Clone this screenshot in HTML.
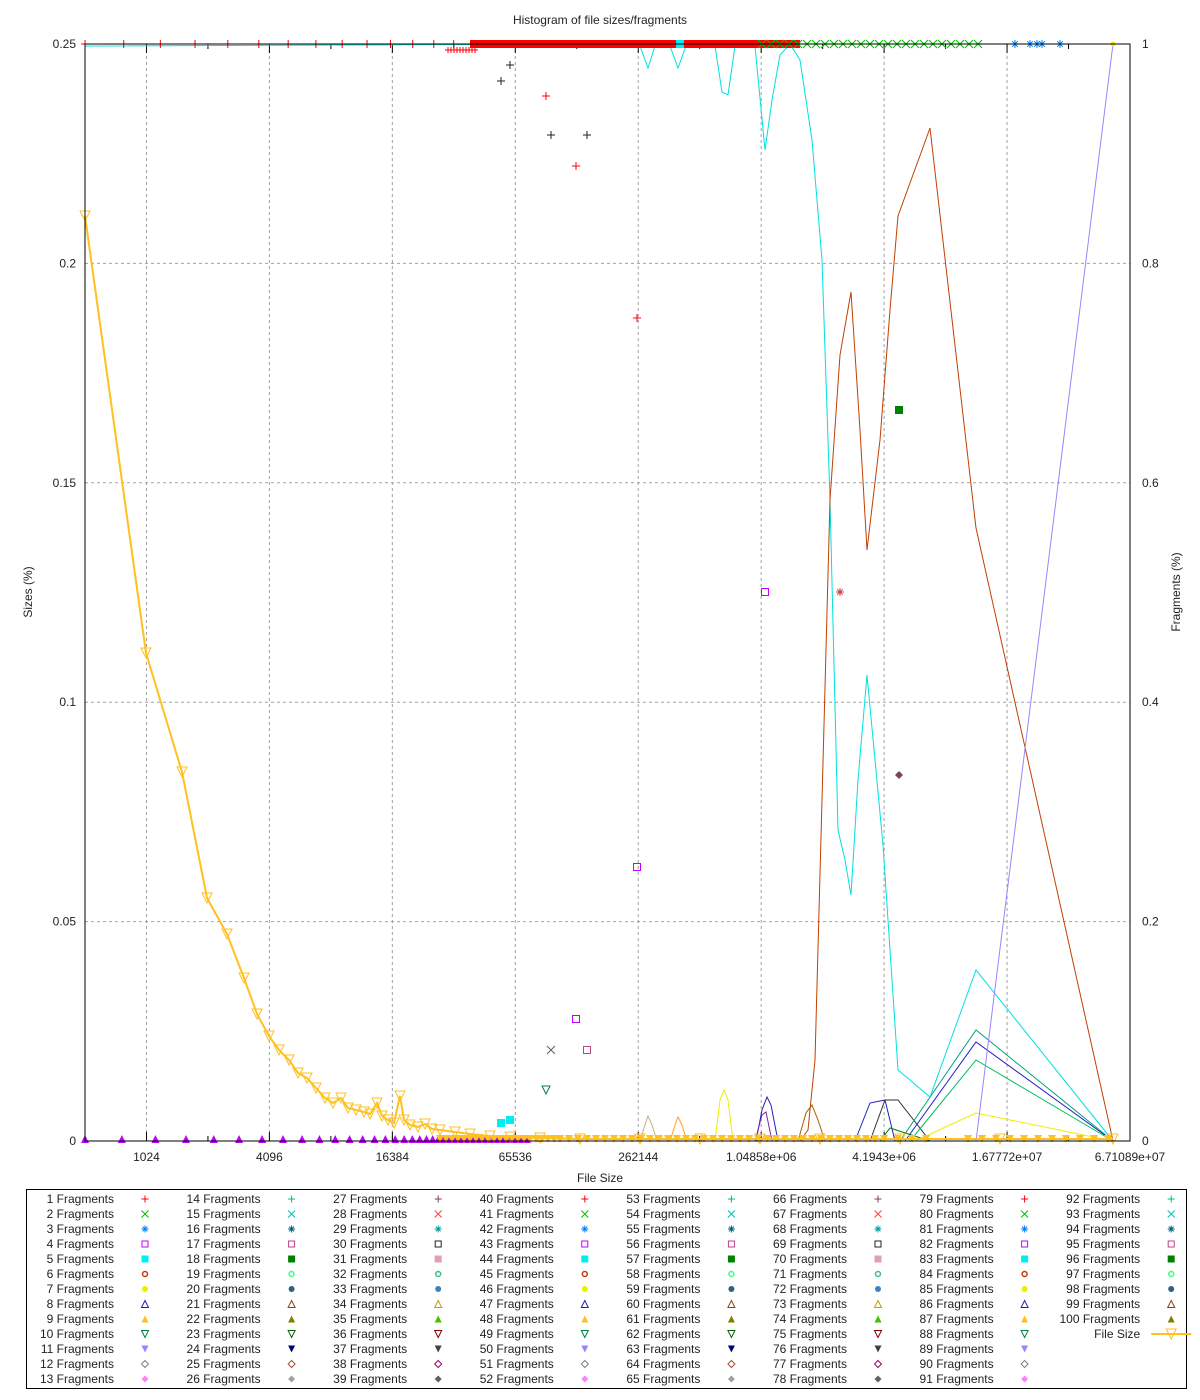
<!DOCTYPE html>
<html><head><meta charset="utf-8"><style>
body{margin:0;background:#fff;}
svg{display:block;font-family:"Liberation Sans",sans-serif;font-size:12px;}
</style></head><body>
<svg id="s" width="1200" height="1400" xmlns="http://www.w3.org/2000/svg"></svg>
<script>
const S=document.getElementById('s');let h='';
const L=85,R=1130,T=44,B=1141;
const X=p=>L+(p-9)*(R-L)/17; // p = log2
const YL=v=>B-v/0.25*(B-T);
h+='<rect width="1200" height="1400" fill="#fff"/>';
// grid
for(let i=1;i<5;i++){const y=B-i*(B-T)/5;h+=`<line x1="${L}" y1="${y}" x2="${R}" y2="${y}" stroke="#a0a0a0" stroke-dasharray="3,3"/>`;}
for(let p=10;p<26;p+=2){h+=`<line x1="${X(p)}" y1="${T}" x2="${X(p)}" y2="${B}" stroke="#a0a0a0" stroke-dasharray="3,3"/>`;}
// ticks
for(let p=10;p<=26;p++){const x=X(p),l=p%2==0?9:5;h+=`<line x1="${x}" y1="${B}" x2="${x}" y2="${B-l}" stroke="#000"/><line x1="${x}" y1="${T}" x2="${x}" y2="${T+l}" stroke="#000"/>`;}
const xl={10:'1024',12:'4096',14:'16384',16:'65536',18:'262144',20:'1.04858e+06',22:'4.1943e+06',24:'1.67772e+07',26:'6.71089e+07'};
for(const p in xl)h+=`<text x="${X(+p)}" y="${B+20}" text-anchor="middle" fill="#222">${xl[p]}</text>`;
const yl=['0','0.05','0.1','0.15','0.2','0.25'],yr=['0','0.2','0.4','0.6','0.8','1'];
for(let i=0;i<6;i++){const y=B-i*(B-T)/5;h+=`<text x="${L-9}" y="${y+4}" text-anchor="end" fill="#222">${yl[i]}</text><text x="${R+12}" y="${y+4}" fill="#222">${yr[i]}</text>`;}
h+=`<text x="600" y="24" text-anchor="middle" fill="#222">Histogram of file sizes/fragments</text>`;
h+=`<text x="600" y="1182" text-anchor="middle" fill="#222">File Size</text>`;
h+=`<text transform="translate(32,592) rotate(-90)" text-anchor="middle" fill="#222">Sizes (%)</text>`;
h+=`<text transform="translate(1180,592) rotate(-90)" text-anchor="middle" fill="#222">Fragments (%)</text>`;
// marker
function mk(t,x,y,c,s=4){switch(t){
case 1:return `<path d="M${x-s} ${y}h${2*s}M${x} ${y-s}v${2*s}" stroke="${c}"/>`;
case 2:return `<path d="M${x-s} ${y-s}l${2*s} ${2*s}M${x-s} ${y+s}l${2*s} ${-2*s}" stroke="${c}"/>`;
case 3:return `<path d="M${x-s} ${y}h${2*s}M${x} ${y-s}v${2*s}M${x-s*.7} ${y-s*.7}l${1.4*s} ${1.4*s}M${x-s*.7} ${y+s*.7}l${1.4*s} ${-1.4*s}" stroke="${c}"/>`;
case 4:return `<rect x="${x-s+.5}" y="${y-s+.5}" width="${2*s-1}" height="${2*s-1}" fill="none" stroke="${c}"/>`;
case 5:return `<rect x="${x-s}" y="${y-s}" width="${2*s}" height="${2*s}" fill="${c}"/>`;
case 6:return `<circle cx="${x}" cy="${y}" r="${s-1}" fill="none" stroke="${c}" stroke-width="1.5"/>`;
case 7:return `<circle cx="${x}" cy="${y}" r="${s-.5}" fill="${c}"/>`;
case 8:return `<path d="M${x} ${y-s}L${x+s} ${y+s}H${x-s}Z" fill="none" stroke="${c}"/>`;
case 9:return `<path d="M${x} ${y-s}L${x+s} ${y+s}H${x-s}Z" fill="${c}"/>`;
case 10:return `<path d="M${x} ${y+s}L${x+s} ${y-s}H${x-s}Z" fill="none" stroke="${c}"/>`;
case 11:return `<path d="M${x} ${y+s}L${x+s} ${y-s}H${x-s}Z" fill="${c}"/>`;
case 12:return `<path d="M${x} ${y-s}L${x+s} ${y}L${x} ${y+s}L${x-s} ${y}Z" fill="none" stroke="${c}"/>`;
default:return `<path d="M${x} ${y-s}L${x+s} ${y}L${x} ${y+s}L${x-s} ${y}Z" fill="${c}"/>`;}}
const pal=['#ff0000','#00c000','#0080ff','#c000ff','#00eeee','#c04000','#eeee00','#2020c0','#ffc020','#008040','#a080ff','#808080','#ff80ff','#00c060','#00c0c0','#006080','#c04080','#008000','#40ff80','#306080','#8b4513','#808000','#006400','#000080','#a0522d','#a0a0a0','#804060','#ff4040','#00a0a0','#202020','#e0a0b0','#40c080','#4080c0','#c0a000','#40c000','#800000','#404040','#a00060','#606060'];
const col=n=>pal[(n-1)%pal.length];
const pt=n=>((n-1)%13)+1;
// lines
function pl(pts,c,w=1){h+=`<polyline points="${pts.map(p=>p.join(',')).join(' ')}" fill="none" stroke="${c}" stroke-width="${w}"/>`;}
// bottom small bumps
pl([[640,1141],[645,1125],[648,1116],[652,1125],[657,1141]],'#c0b080');
pl([[670,1141],[675,1125],[678,1117],[682,1125],[687,1141]],'#ffa020');
pl([[715,1141],[720,1100],[724,1090],[728,1100],[733,1141]],'#eeee00');
pl([[756,1141],[762,1110],[767,1097],[771,1105],[778,1141]],'#2020c0');
pl([[755,1141],[762,1115],[766,1112],[772,1141]],'#8020a0');
pl([[798,1141],[806,1113],[812,1105],[818,1120],[825,1141]],'#a06000');
pl([[855,1141],[870,1103],[885,1100],[895,1141]],'#2020c0');
pl([[870,1141],[885,1100],[898,1100],[930,1141]],'#303030');
pl([[880,1141],[890,1128],[930,1141]],'#008000');
pl([[900,1141],[976,1030],[1113,1141]],'#00a080');
pl([[905,1141],[976,1042],[1113,1141]],'#2020c0');
pl([[910,1141],[976,1060],[1113,1141]],'#00c060');
pl([[915,1141],[976,1113],[1113,1141]],'#eeee00');
// cyan
pl([[85,46],[600,44],[640,46],[648,68],[655,46],[670,46],[678,68],[686,46],[715,46],[722,92],[728,95],[735,46],[755,46],[765,150],[772,100],[780,55],[790,44],[800,60],[812,140],[822,260],[830,500],[838,830],[845,860],[851,895],[858,780],[867,675],[875,760],[883,845],[898,1070],[930,1097],[976,970],[1113,1141]],'#00e0e0');
// brown
pl([[500,1141],[800,1141],[808,1130],[815,1060],[822,800],[830,500],[840,355],[851,292],[860,430],[867,550],[880,440],[890,310],[898,216],[930,128],[976,528],[1113,1141]],'#c04000');
// purple
pl([[976,1141],[1113,44]],'#a080ff');
// top row of fragment-1 marks
for(let p=9;p<19.2;p+=0.09*(1+(19-p)*0.6)){h+=mk(1,X(p),44,'#ff0000',4);}
h+=`<rect x="470" y="40" width="330" height="8" fill="#ff0000"/>`;
for(let i=0;i<25;i++){h+=mk(2,762+i*9,44,'#00c000',4);}
[1015,1030,1037,1042,1060].forEach(x=>h+=mk(3,x,44,'#0080ff',4));
h+=mk(5,680,44,'#00eeee',4);h+=mk(7,1113,44,'#eeee00',3);
for(let i=0;i<10;i++)h+=mk(1,448+i*3,50,'#ff0000',3);
// scattered points
[[501,81],[510,65],[551,135],[587,135]].forEach(p=>h+=mk(1,p[0],p[1],'#202020'));
[[546,96],[576,166],[637,318]].forEach(p=>h+=mk(1,p[0],p[1],'#ff0000'));
[[637,867],[576,1019],[765,592]].forEach(p=>h+=mk(4,p[0],p[1],'#c000ff'));
h+=mk(4,587,1050,'#c04080');h+=mk(2,551,1050,'#606060');h+=mk(10,546,1090,'#008040');
h+=mk(5,501,1123,'#00eeee');h+=mk(5,510,1120,'#00eeee');
h+=mk(5,899,410,'#008000');h+=mk(13,899,775,'#804060');h+=mk(3,840,592,'#c04040');
// purple triangles along bottom
for(let p=9;p<16.2;p+=Math.max(0.05,0.6-(p-9)*0.09)){h+=mk(9,X(p),1139,'#c000ff',4);}
// orange File Size
const fs=[[85,216],[146,653],[182,772],[207,898],[227,934],[244,978],[257,1014],[269,1036],[279,1050],[289,1060],[298,1073],[307,1078],[316,1088],[325,1098],[333,1103],[341,1098],[348,1108],[356,1110],[364,1112],[370,1114],[377,1103],[382,1116],[388,1120],[394,1123],[400,1096],[404,1120],[410,1125],[418,1127],[425,1124],[432,1129],[440,1130],[455,1132],[470,1134],[490,1136],[510,1137],[540,1138],[580,1139],[640,1139],[700,1139],[760,1139],[820,1139],[900,1139],[1000,1139],[1113,1139]];
pl(fs,'#ffc020',2);
fs.forEach(p=>h+=mk(10,p[0],p[1],'#ffc020',5));
for(let x=440;x<1110;x+=x<560?6:(x<880?9:14)){if(x>930&&x<960)continue;h+=mk(11,x,1139,'#ffc020',4);}
// axes box
h+=`<rect x="${L}" y="${T}" width="${R-L}" height="${B-T}" fill="none" stroke="#000"/>`;
// legend
h+=`<rect x="26.5" y="1189.5" width="1160" height="199" fill="none" stroke="#000"/>`;
for(let n=1;n<=101;n++){const c=Math.floor((n-1)/13),r=(n-1)%13;const tx=114+c*146.6,sx=145+c*146.6,y=1199+r*15;
 if(n==101){h+=`<text x="${tx}" y="${y+4}" text-anchor="end" fill="#222">File Size</text><line x1="${sx-20}" y1="${y}" x2="${sx+20}" y2="${y}" stroke="#ffc020" stroke-width="2"/>`+mk(10,sx,y,'#ffc020',5);break;}
 h+=`<text x="${tx}" y="${y+4}" text-anchor="end" fill="#222">${n} Fragments</text>`+mk(pt(n),sx,y,col(n),3.5);}
S.innerHTML=h;
</script>
</body></html>
